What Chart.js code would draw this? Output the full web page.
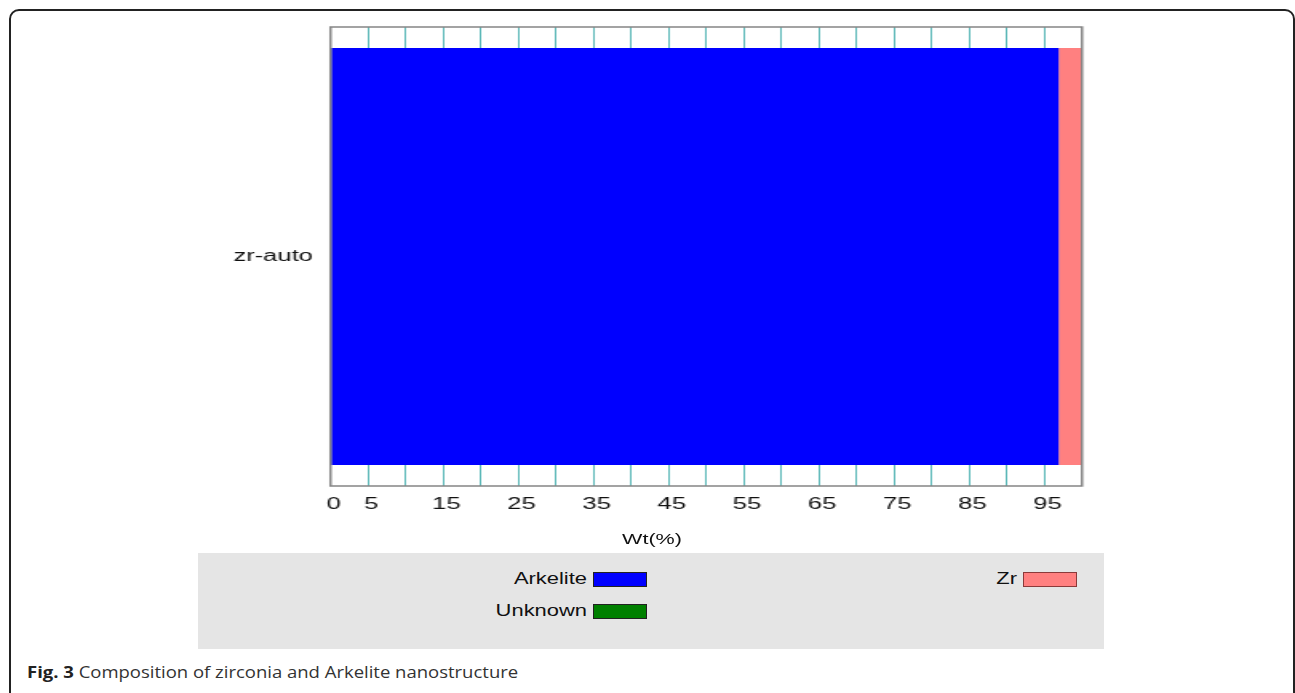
<!DOCTYPE html>
<html><head><meta charset="utf-8">
<script src="https://cdn.jsdelivr.net/npm/chart.js@4.4.1/dist/chart.umd.min.js"></script>
<style>
html,body{margin:0;padding:0;background:#fff;}
#page{position:relative;width:1295px;height:693px;overflow:hidden;font-family:'Liberation Sans',Arial,sans-serif;}
#frame{position:absolute;left:9px;top:9px;width:1286px;height:720px;border:2px solid #222;border-radius:10px;box-sizing:border-box;}
#c{position:absolute;left:0;top:0;}
#xtitle{position:absolute;left:652px;top:531px;font-size:14px;line-height:16px;color:#111;white-space:nowrap;transform:translateX(-50%) scaleX(1.54);}
#legend{position:absolute;left:198px;top:553px;width:906px;height:96px;background:#e5e5e5;}
.sw{position:absolute;width:54px;height:15px;box-sizing:border-box;border:1px solid #222;}
.lt{position:absolute;width:200px;text-align:right;font-size:16px;line-height:16px;color:#111;white-space:nowrap;transform:scaleX(1.37);transform-origin:right center;}
#caption{position:absolute;left:27px;top:662px;font-family:'Open Sans',sans-serif;font-size:16px;line-height:20px;color:#333;white-space:nowrap;transform:scaleX(1.155);transform-origin:left center;}
#caption b{color:#222;}
</style></head>
<body>
<div id="page">
  <div id="frame"></div>
  <canvas id="c" width="810" height="560" style="width:1295px;height:560px;"></canvas>
  <div id="xtitle">Wt(%)</div>
  <div id="legend"></div>
  <div id="caption"><b>Fig. 3</b> Composition of zirconia and Arkelite nanostructure</div>
</div>
<script>
// ---- data ----
const categories = ['zr-auto'];
const seriesNames = ['Arkelite', 'Unknown', 'Zr'];
const arkelite = [96.9];
const unknown = [0];
const zr = [3.1];
const tickLabels = [0, 5, 15, 25, 35, 45, 55, 65, 75, 85, 95];
const axisTitle = 'Wt(%)';
const seriesColors = ['#0000ff', '#008000', '#ff8080'];
const seriesBorders = ['#222222', '#222222', '#8b3a3a'];

// ---- layout (canvas is horizontally stretched to mimic the reference) ----
const CSS_W = 1295, CAN_W = 810, S = CSS_W / CAN_W;
const areaLeft = 330.5 / S, areaRight = 1082 / S;

const framePlugin = {
  id: 'frame',
  afterDatasetsDraw(chart) {
    const a = chart.chartArea, ctx = chart.ctx;
    ctx.save();
    ctx.strokeStyle = '#858585';
    ctx.lineWidth = 1.5;
    ctx.strokeRect(a.left, a.top, a.right - a.left, a.bottom - a.top);
    ctx.restore();
  }
};

const seriesValues = [arkelite, unknown, zr];
new Chart(document.getElementById('c'), {
  type: 'bar',
  data: {
    labels: categories,
    datasets: seriesNames.map((n, i) => ({
      label: n,
      data: seriesValues[i],
      backgroundColor: seriesColors[i],
      borderWidth: 0,
      categoryPercentage: 1,
      barPercentage: 0.909
    }))
  },
  options: {
    indexAxis: 'y',
    responsive: false,
    animation: false,
    devicePixelRatio: 1,
    layout: { padding: { left: 0, top: 27, right: CAN_W - areaRight, bottom: 0 } },
    plugins: { legend: { display: false }, tooltip: { enabled: false } },
    scales: {
      x: {
        stacked: true, min: 0, max: 100,
        border: { display: false },
        grid: {
          drawTicks: false,
          lineWidth: 1,
          color: (c) => (c.tick && (c.tick.value === 0 || c.tick.value === 100)) ? 'rgba(0,0,0,0)' : '#5cb8b8'
        },
        ticks: {
          stepSize: 5, autoSkip: false, maxRotation: 0, padding: 9, labelOffset: 2,
          color: '#111',
          font: { family: "'Liberation Sans', Arial, sans-serif", size: 16 },
          callback: (v) => tickLabels.includes(v) ? String(v) : ''
        },
        afterFit: (s) => { s.height = 560 - 486; }
      },
      y: {
        stacked: true,
        border: { display: false },
        grid: { display: false, drawTicks: false },
        ticks: {
          padding: 11, color: '#111',
          font: { family: "'Liberation Sans', Arial, sans-serif", size: 16 }
        },
        afterFit: (s) => { s.width = areaLeft; }
      }
    }
  },
  plugins: [framePlugin]
});

document.getElementById('xtitle').textContent = axisTitle;

// ---- legend (filled by columns, two rows) ----
const leg = document.getElementById('legend');
seriesNames.forEach((n, i) => {
  const col = Math.floor(i / 2), row = i % 2;
  const swLeft = 395 + col * 430, swTop = 19 + row * 32;
  const sw = document.createElement('div');
  sw.className = 'sw';
  sw.style.left = swLeft + 'px';
  sw.style.top = swTop + 'px';
  sw.style.background = seriesColors[i];
  sw.style.borderColor = seriesBorders[i];
  leg.appendChild(sw);
  const t = document.createElement('div');
  t.className = 'lt';
  t.textContent = n;
  t.style.left = (swLeft - 6 - 200) + 'px';
  t.style.top = (swTop - 1) + 'px';
  leg.appendChild(t);
});
</script>
</body></html>
